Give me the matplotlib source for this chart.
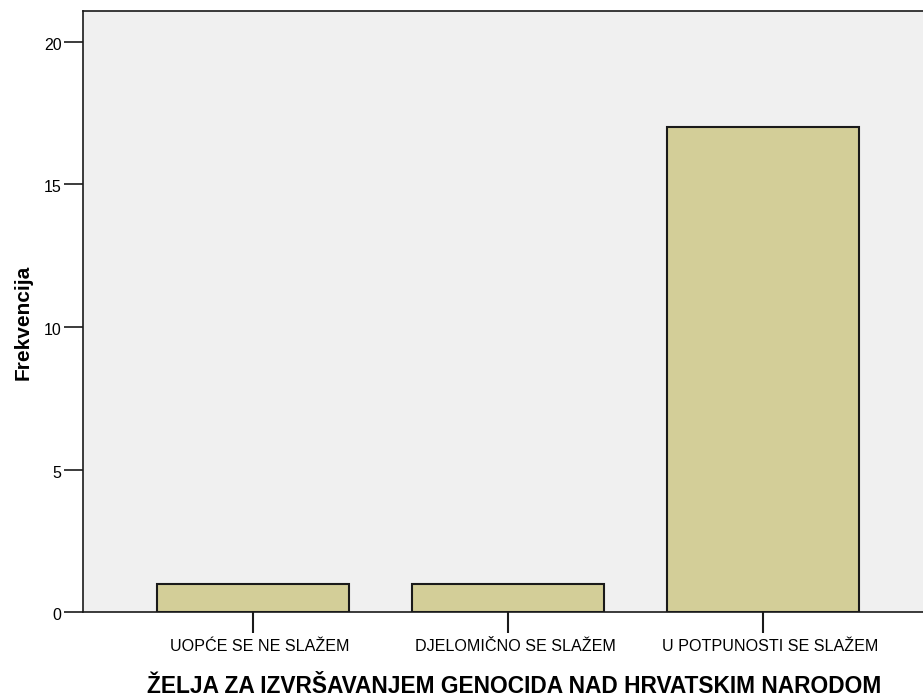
import matplotlib
matplotlib.use("Agg")
import matplotlib.pyplot as plt
from matplotlib.transforms import ScaledTranslation

categories = ["UOPĆE SE NE SLAŽEM", "DJELOMIČNO SE SLAŽEM", "U POTPUNOSTI SE SLAŽEM"]
values = [1, 1, 17]
yticks = [0, 5, 10, 15, 20]
xlabel = 'ŽELJA ZA IZVRŠAVANJEM GENOCIDA NAD HRVATSKIM NARODOM'
ylabel = 'Frekvencija'

plt.rcParams['font.family'] = ['Liberation Sans', 'DejaVu Sans']

W, H = 923, 697
fig = plt.figure(figsize=(W/100, H/100), dpi=100)
ax = fig.add_axes([82.5/W, (H-612.3)/H, (W-82.5)/W, (612.3-11.3)/H])
ax.set_facecolor('#F0F0F0')

x = list(range(len(categories)))
ax.bar(x, values, width=0.753, color='#D3CE98', edgecolor='#1a1a1a', linewidth=1.5, zorder=3)

ax.set_xlim(-0.669, 2.627)
ax.set_ylim(0, 21.07)
ax.set_yticks(yticks)
ax.set_yticklabels([str(v) for v in yticks], fontsize=11.5)
ax.set_xticks(x)
ax.set_xticklabels(categories, fontsize=11.6)
ax.tick_params(axis='y', length=14, width=1.2, pad=1, colors='#1a1a1a', labelcolor='black')
ax.tick_params(axis='x', length=15, width=1.5, pad=4, colors='#1a1a1a', labelcolor='black')
for lbl in ax.get_xticklabels():
    lbl.set_transform(lbl.get_transform() + ScaledTranslation(7/100, 0, fig.dpi_scale_trans))
for lbl in ax.get_yticklabels():
    lbl.set_transform(lbl.get_transform() + ScaledTranslation(0, -2/100, fig.dpi_scale_trans))

for s in ['left', 'top', 'bottom']:
    ax.spines[s].set_color('#1a1a1a')
    ax.spines[s].set_linewidth(1.2)
ax.spines['right'].set_visible(False)

fig.text(23/W, (H-322)/H, ylabel, rotation=90, fontsize=15, fontweight='bold',
         ha='center', va='center')
fig.text(514.5/W, (H-693)/H, xlabel, fontsize=16.4, fontweight='bold',
         ha='center', va='baseline')

fig.savefig('out.png', dpi=100)
